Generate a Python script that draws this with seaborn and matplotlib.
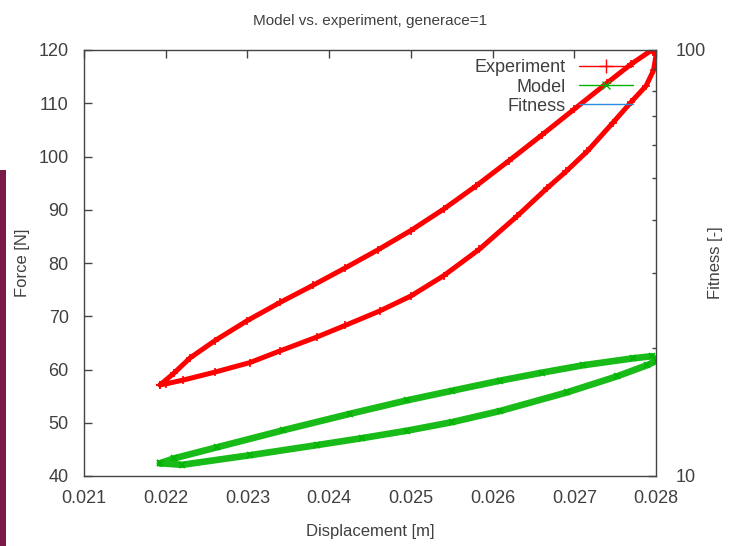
import matplotlib
matplotlib.use("Agg")
import matplotlib.pyplot as plt
from matplotlib.lines import Line2D
from matplotlib.patches import Rectangle
import numpy as np
import pandas as pd
import seaborn as sns

# Experiment hysteresis loop (loading then unloading)
exp_disp = [0.02193, 0.0221, 0.0223, 0.0226, 0.0230, 0.0234, 0.0238, 0.0242,
            0.0246, 0.0250, 0.0254, 0.0258, 0.0262, 0.0266, 0.0270, 0.0274,
            0.0277, 0.02795,
            0.02800, 0.02797, 0.02788, 0.02770, 0.02747, 0.02716, 0.02690,
            0.02667, 0.02630, 0.02584, 0.02540, 0.02500, 0.02462, 0.02420,
            0.02385, 0.02340, 0.02303, 0.02260, 0.02221, 0.02200, 0.02193]
exp_force = [57.1, 59.3, 62.2, 65.4, 69.2, 72.6, 75.8, 79.1,
             82.5, 86.1, 90.1, 94.5, 99.2, 104.0, 108.9, 113.8,
             117.4, 120.0,
             119.0, 116.2, 113.3, 110.3, 106.3, 101.0, 97.2,
             94.1, 88.8, 82.6, 77.6, 73.8, 71.0, 68.3,
             66.1, 63.5, 61.3, 59.5, 58.0, 57.3, 57.1]

# Model loop
mod_disp = [0.02193, 0.0221, 0.02263, 0.02344, 0.02426, 0.02495, 0.02550,
            0.02609, 0.02660, 0.02711, 0.02772, 0.02795, 0.02800,
            0.02789, 0.02752, 0.02691, 0.02609, 0.02550, 0.02495, 0.02440,
            0.02385, 0.02303, 0.02220, 0.02193]
mod_force = [42.4, 43.3, 45.4, 48.6, 51.7, 54.2, 56.0,
             57.9, 59.4, 60.8, 62.1, 62.5, 61.6,
             60.8, 58.7, 55.7, 52.2, 50.1, 48.5, 47.1,
             45.8, 43.9, 42.1, 42.4]

x_ticks = [0.021, 0.022, 0.023, 0.024, 0.025, 0.026, 0.027, 0.028]
y_ticks = [40, 50, 60, 70, 80, 90, 100, 110, 120]
y2_ticks = [10, 100]

RED = "#ff0000"
GREEN = "#00b400"
BLUE = "#2a8ae0"
TXT = "#404040"

sns.set_style("white")
plt.rcParams["font.family"] = ["Liberation Sans", "DejaVu Sans"]

exp_df = pd.DataFrame({"disp": exp_disp, "force": exp_force})
mod_df = pd.DataFrame({"disp": mod_disp, "force": mod_force})

fig = plt.figure(figsize=(7.44, 5.46), dpi=100)
ax = fig.add_axes([84 / 744, 70 / 546, 572 / 744, 426 / 546])

sns.lineplot(data=exp_df, x="disp", y="force", sort=False, estimator=None,
             color=RED, lw=3.6, marker="+", markersize=6, mew=1.2,
             markeredgecolor=RED, ax=ax)
sns.lineplot(data=mod_df, x="disp", y="force", sort=False, estimator=None,
             color=GREEN, lw=4.8, marker="x", markersize=5, mew=1.2,
             markeredgecolor=GREEN, alpha=0.9, ax=ax)

ax.set_xlim(0.021, 0.028)
ax.set_ylim(40, 120)
ax.set_xticks(x_ticks)
ax.set_xticklabels([f"{v:.3f}" for v in x_ticks])
ax.set_yticks(y_ticks)
ax.tick_params(axis="both", direction="in", length=6, width=1, color="#444444",
               labelsize=13, labelcolor=TXT, top=True, right=False)
ax.tick_params(axis="x", pad=10)
ax.tick_params(axis="y", pad=11)
ax.set_xlabel("Displacement [m]", fontsize=12, color=TXT, labelpad=12)
ax.set_ylabel("Force [N]", fontsize=12, color=TXT, labelpad=6)
for s in ax.spines.values():
    s.set_color("#444444")
    s.set_linewidth(1)

# secondary fitness axis (log scale), no data drawn for fitness
ax2 = ax.twinx()
ax2.set_yscale("log")
ax2.set_ylim(10, 100)
ax2.set_yticks(y2_ticks)
ax2.set_yticklabels([str(v) for v in y2_ticks])
ax2.tick_params(axis="y", which="major", direction="in", length=6, width=1,
                color="#444444", labelsize=13, labelcolor=TXT, pad=14)
ax2.tick_params(axis="y", which="minor", direction="in", length=3, width=1,
                color="#444444")
ax2.yaxis.set_minor_formatter(matplotlib.ticker.NullFormatter())
ax2.set_ylabel("Fitness [-]", fontsize=12, color=TXT, labelpad=2)
for s in ax2.spines.values():
    s.set_visible(False)

ax.set_title("Model vs. experiment, generace=1", fontsize=11, color=TXT, pad=18)

handles = [
    Line2D([], [], color=RED, lw=1, marker="+", markersize=10, mew=1),
    Line2D([], [], color=GREEN, lw=1, marker="x", markersize=6, mew=1),
    Line2D([], [], color=BLUE, lw=1),
]
leg = ax2.legend(handles, ["Experiment", "Model", "Fitness"], loc="upper right",
                 bbox_to_anchor=(0.988, 1.016), frameon=False, markerfirst=False,
                 numpoints=1, handlelength=3.0, handletextpad=0.7,
                 labelspacing=0.12, fontsize=13)
for t in leg.get_texts():
    t.set_color(TXT)

# dark maroon strip at the left edge of the screenshot
fig.patches.append(Rectangle((0, 0), 6 / 744, 376 / 546, transform=fig.transFigure,
                             facecolor="#7b1a47", edgecolor="none"))

fig.savefig("out.png", dpi=100)
